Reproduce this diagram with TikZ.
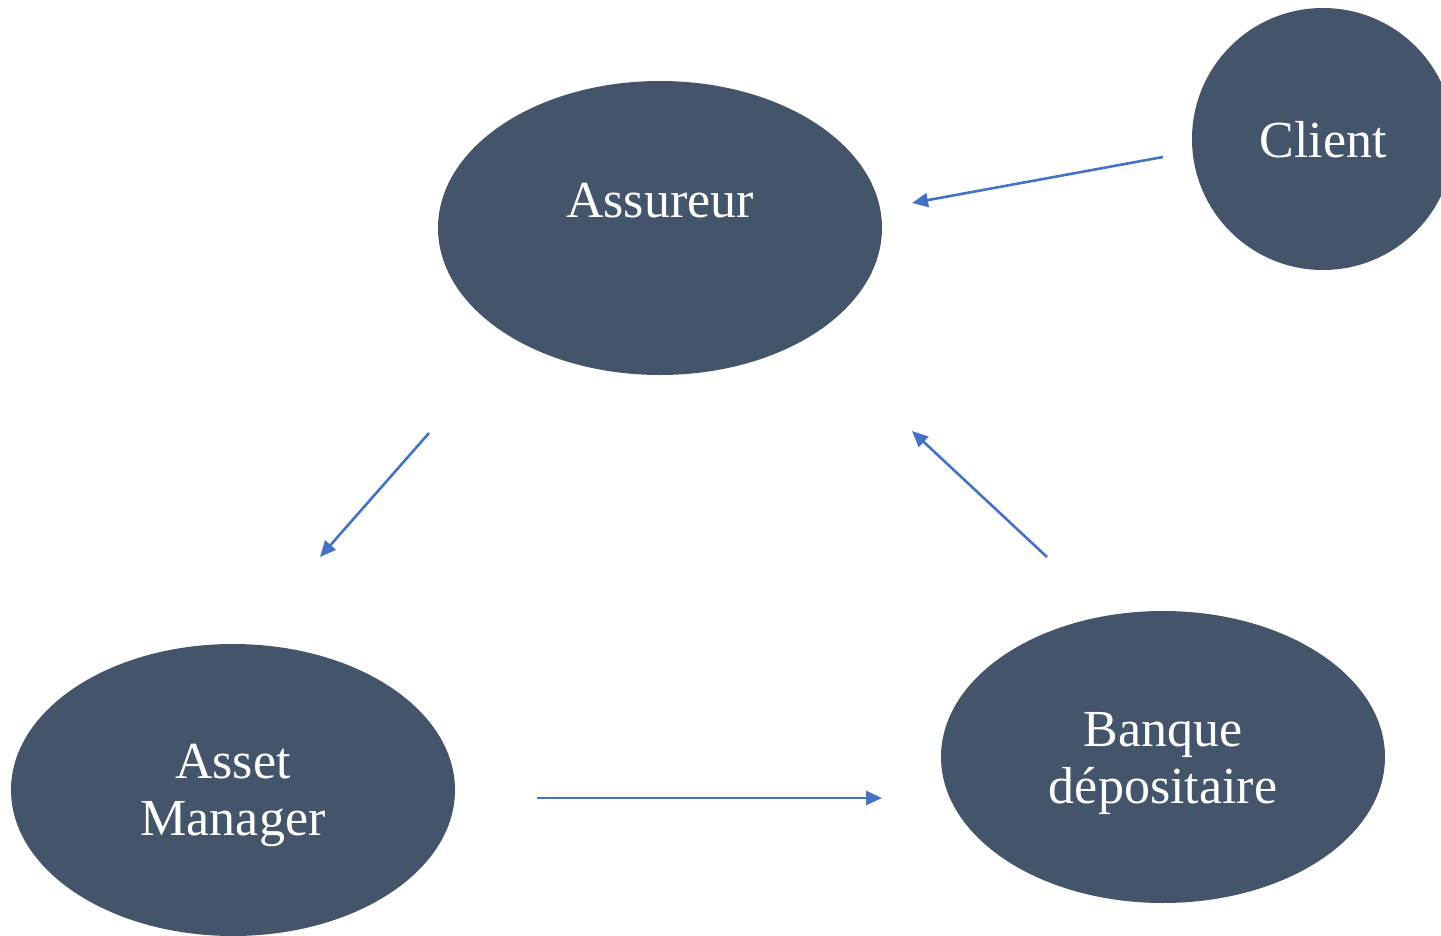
\documentclass[tikz,border=0pt]{standalone}
\usepackage{fontspec}
\setmainfont{Liberation Serif}
\usetikzlibrary{arrows.meta, shapes.geometric}

\definecolor{slateblue}{HTML}{44546A}
\definecolor{linkblue}{HTML}{4472C4}

\begin{document}
\begin{tikzpicture}[x=1pt, y=-1pt,
    blob/.style={ellipse, fill=slateblue, draw=none, inner sep=0pt},
    lbl/.style={text=white, align=center, font=\fontsize{52}{57}\selectfont},
    flow/.style={draw=linkblue, line width=2.6pt,
        -{Triangle[length=16pt, width=14pt]}},
]

\useasboundingbox (0,0) rectangle (1441,935);
\clip (0,0) rectangle (1441,935);

% Actors
\node[blob, minimum width=444, minimum height=294,
      label={[lbl, yshift=27pt]center:Assureur}] (assureur) at (660,228) {};
\node[blob, circle, minimum size=262,
      label={[lbl, yshift=-1pt]center:Client}] (client) at (1323,139) {};
\node[blob, minimum width=444, minimum height=292,
      label={[lbl, yshift=-5pt]center:Asset\\Manager}] (asset) at (233,790) {};
\node[blob, minimum width=444, minimum height=292,
      label={[lbl, yshift=-6pt]center:Banque\\dépositaire}] (banque) at (1163,757) {};

% Arrow ends
\coordinate (c-out) at (1163,157);
\coordinate (a-in)  at (912,203);
\coordinate (a-out) at (429,433);
\coordinate (m-in)  at (320,557);
\coordinate (m-out) at (537,798);
\coordinate (b-in)  at (882,798);
\coordinate (b-out) at (1047,557);
\coordinate (a-back) at (912,431);

% Flows
\draw[flow] (c-out) -- (a-in);
\draw[flow] (a-out) -- (m-in);
\draw[flow] (m-out) -- (b-in);
\draw[flow] (b-out) -- (a-back);

\end{tikzpicture}
\end{document}
